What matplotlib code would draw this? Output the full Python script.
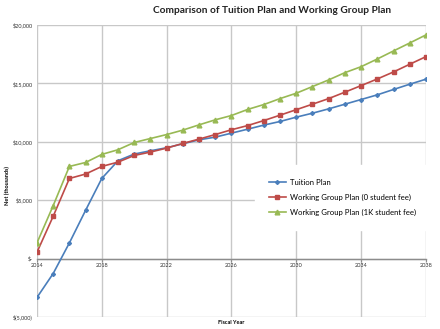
import matplotlib
matplotlib.use("Agg")
import matplotlib.pyplot as plt
from matplotlib.ticker import FuncFormatter

years = list(range(2014, 2039))
tuition = [-3330, -1280, 1340, 4130, 6860, 8380, 8950, 9230, 9490, 9830, 10170, 10400,
           10740, 11080, 11430, 11740, 12110, 12450, 12820, 13220, 13620, 14020, 14480,
           14930, 15360]
wg_zero = [540, 3620, 6860, 7240, 7890, 8260, 8830, 9120, 9460, 9860, 10230, 10620,
           11030, 11390, 11820, 12280, 12750, 13220, 13700, 14250, 14810, 15380, 15980,
           16640, 17290]
wg_1k = [1340, 4530, 7890, 8230, 8920, 9320, 9940, 10280, 10620, 11000, 11450, 11880,
         12250, 12770, 13190, 13700, 14160, 14730, 15300, 15920, 16430, 17090, 17780,
         18460, 19150]
x_ticks = list(range(2014, 2039, 4))
y_ticks = [-5000, 0, 5000, 10000, 15000, 20000]

plt.rcParams['font.family'] = ['Lato', 'DejaVu Sans']

fig = plt.figure(figsize=(4.4, 3.29), dpi=100)
ax = fig.add_axes([0.084, 0.0365, 0.884, 0.8875])

ax.plot(years, tuition, color='#4a7ebb', marker='D', markersize=2.0, lw=1.2,
        label='Tuition Plan', zorder=3)
ax.plot(years, wg_zero, color='#be4b48', marker='s', markersize=3.2, lw=1.2,
        label='Working Group Plan (0 student fee)', zorder=3)
ax.plot(years, wg_1k, color='#98b954', marker='^', markersize=3.4, lw=1.2,
        label='Working Group Plan (1K student fee)', zorder=3)

ax.set_xlim(2014, 2038)
ax.set_ylim(-5000, 20000)
ax.set_xticks(x_ticks)
ax.set_yticks(y_ticks)


def money(v, pos):
    if v == 0:
        return '$-'
    if v < 0:
        return '$({:,.0f})'.format(-v)
    return '${:,.0f}'.format(v)


ax.yaxis.set_major_formatter(FuncFormatter(money))
ax.grid(True, color='#c8c8c8', lw=1.0, zorder=0)
for s in ['top', 'right', 'left']:
    ax.spines[s].set_visible(False)
ax.spines['bottom'].set_position(('data', 0))
ax.spines['bottom'].set_color('#8c8c8c')
ax.spines['bottom'].set_linewidth(1.0)
ax.spines['bottom'].set_zorder(2)
ax.tick_params(axis='x', labelsize=4, length=2, color='#8c8c8c', pad=1.5,
               labelcolor='#333333')
ax.tick_params(axis='y', labelsize=4, length=0, pad=3, labelcolor='#333333')

ax.set_xlabel('Fiscal Year', fontsize=4, fontweight='bold')
ax.xaxis.set_label_coords(0.5, -0.012)
ax.set_ylabel('Net (thousands)', fontsize=4, fontweight='bold')
ax.yaxis.set_label_coords(-0.07, 0.45)

fig.text(0.618, 0.968, 'Comparison of Tuition Plan and Working Group Plan',
         fontsize=7.3, fontweight='bold', ha='center', va='center', color='#222222')

leg = ax.legend(loc='upper left', bbox_to_anchor=(0.55, 0.535), fontsize=5.6,
                frameon=True, fancybox=False, edgecolor='white', framealpha=1,
                borderpad=1.8, labelspacing=1.0, handlelength=2.2,
                handletextpad=0.5)
leg.set_zorder(4)

fig.savefig('out.png', dpi=100)
